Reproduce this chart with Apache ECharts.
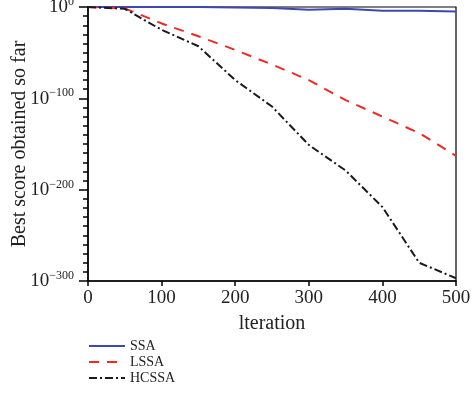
<!DOCTYPE html>
<html><head><meta charset="utf-8">
<script src="https://cdn.jsdelivr.net/npm/echarts@6/dist/echarts.min.js"></script>
<style>html,body{margin:0;padding:0;background:#fff}#c{width:473px;height:394px}</style>
</head><body><div id="c"></div>
<script>
// iterations
var iterations = [0, 50, 100, 150, 200, 250, 300, 350, 400, 450, 500];
// log10(best score) for each algorithm
var ssa   = [0, 0, 0, 0, -0.5, -1, -3, -2, -4, -4.2, -5];
var lssa  = [0, -1.5, -18, -32, -47, -63, -80, -102, -120, -138, -163];
var hcssa = [0, -2, -25, -43, -80, -109, -151, -179, -219, -280, -297];
var yTicks = [0, -100, -200, -300];
var seriesNames = ['SSA', 'LSSA', 'HCSSA'];

var FONT = '"Liberation Serif", "DejaVu Serif", serif';
function pairs(v){ return iterations.map(function(x,i){ return [x, v[i]]; }); }

var chart = echarts.init(document.getElementById('c'));
chart.setOption({
  animation: false,
  backgroundColor: '#fff',
  grid: {left: 88, right: 17, top: 7, bottom: 113, show: true, borderColor: '#000', borderWidth: 1.2,
         containLabel: false, outerBoundsMode: 'none'},
  legend: {
    orient: 'vertical', left: 83, top: 334, itemGap: 2, itemWidth: 36, itemHeight: 14,
    itemStyle: {opacity: 0},
    textStyle: {fontFamily: FONT, fontSize: 14, color: '#222'},
    data: seriesNames
  },
  xAxis: {
    type: 'value', min: 0, max: 500, interval: 100,
    name: 'lteration', nameLocation: 'middle', nameGap: 33, nameMoveOverlap: false,
    nameTextStyle: {fontFamily: FONT, fontSize: 20, color: '#222'},
    axisLine: {onZero: false, lineStyle: {color: '#000', width: 1.5}},
    axisTick: {inside: false, length: 5, lineStyle: {color: '#000', width: 1.5}},
    axisLabel: {fontFamily: FONT, fontSize: 19, color: '#222', margin: 8},
    splitLine: {show: false}
  },
  yAxis: {
    type: 'value', min: -300, max: 0, interval: 100,
    name: 'Best score obtained so far', nameLocation: 'middle', nameGap: 58, nameMoveOverlap: false,
    nameTextStyle: {fontFamily: FONT, fontSize: 20, color: '#222'},
    axisLine: {onZero: false, lineStyle: {color: '#000', width: 1.5}},
    axisTick: {inside: false, length: 9, lineStyle: {color: '#000', width: 1.5}},
    minorTick: {show: true, splitNumber: 10, length: 5, lineStyle: {color: '#000', width: 1.5}},
    axisLabel: {
      margin: 14,
      formatter: function(v){ return '{b|10}{s|' + (v < 0 ? '\u2212' + (-v) : v) + '}'; },
      rich: {
        b: {fontFamily: FONT, fontSize: 19, color: '#222', verticalAlign: 'bottom', lineHeight: 20},
        s: {fontFamily: FONT, fontSize: 12, color: '#222', verticalAlign: 'bottom', lineHeight: 12, padding: [0,0,9,0]}
      }
    },
    splitLine: {show: false}
  },
  series: [
    {name: 'SSA', type: 'line', data: pairs(ssa), symbol: 'none', z: 3,
     lineStyle: {color: '#3f48b0', width: 2}, itemStyle: {color: '#3f48b0'}},
    {name: 'LSSA', type: 'line', data: pairs(lssa), symbol: 'none',
     lineStyle: {color: '#ee2a24', width: 2, type: [10, 8]}, itemStyle: {color: '#ee2a24'}},
    {name: 'HCSSA', type: 'line', data: pairs(hcssa), symbol: 'none',
     lineStyle: {color: '#1a1a1a', width: 2, type: [8, 3, 2, 3]}, itemStyle: {color: '#1a1a1a'}}
  ]
});
</script></body></html>
